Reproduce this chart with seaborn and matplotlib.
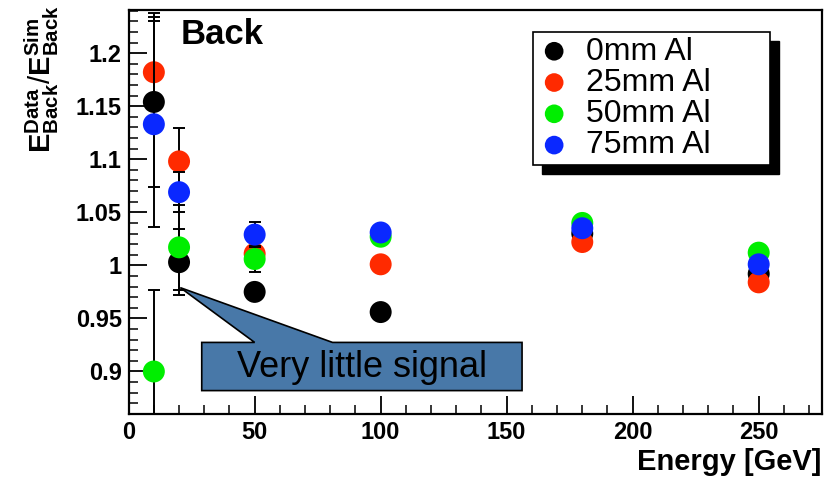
import numpy as np
import pandas as pd
import matplotlib
matplotlib.use("Agg")
import matplotlib.pyplot as plt
from matplotlib.patches import Polygon, Rectangle
from matplotlib.ticker import MultipleLocator
import seaborn as sns

# Beam energies and response ratios per absorber thickness
energy = [10, 20, 50, 100, 180, 250]
ratio_0mm = [1.154, 1.003, 0.975, 0.956, 1.030, 0.992]
ratio_25mm = [1.182, 1.098, 1.011, 1.001, 1.022, 0.984]
ratio_50mm = [0.900, 1.017, 1.006, 1.027, 1.040, 1.012]
ratio_75mm = [1.133, 1.069, 1.029, 1.031, 1.035, 1.001]
err_0mm = [0.080, 0.031, 0.004, 0.003, 0.003, 0.003]
err_25mm = [0.056, 0.031, 0.004, 0.003, 0.003, 0.003]
err_50mm = [0.077, 0.040, 0.012, 0.003, 0.003, 0.003]
err_75mm = [0.097, 0.019, 0.012, 0.003, 0.003, 0.003]
labels = ["0mm Al", "25mm Al", "50mm Al", "75mm Al"]
colors = ["#000000", "#ff2a00", "#00ee00", "#0a28ff"]

series = [ratio_0mm, ratio_25mm, ratio_50mm, ratio_75mm]
errors = [err_0mm, err_25mm, err_50mm, err_75mm]
df = pd.DataFrame({
    "energy": np.tile(energy, 4),
    "ratio": np.concatenate(series),
    "err": np.concatenate(errors),
    "absorber": np.repeat(labels, len(energy)),
})

sns.set_theme(style="white")
plt.rcParams["font.family"] = ["Liberation Sans", "DejaVu Sans"]
plt.rcParams["mathtext.fontset"] = "custom"
plt.rcParams["mathtext.rm"] = "Liberation Sans"
plt.rcParams["mathtext.bf"] = "Liberation Sans:bold"
plt.rcParams["mathtext.it"] = "Liberation Sans:italic"
for key in ["text.color", "axes.labelcolor", "xtick.color", "ytick.color"]:
    plt.rcParams[key] = "black"

fig = plt.figure(figsize=(8.3, 4.78), dpi=100)
ax = fig.add_axes([0.155, 0.134, 0.835, 0.845])

for i, lab in enumerate(labels):
    sub = df[df["absorber"] == lab]
    ax.errorbar(sub["energy"], sub["ratio"], yerr=sub["err"], fmt="none",
                ecolor="black", elinewidth=1.4, capsize=4, capthick=1.4,
                zorder=2 + 2 * i)
    sns.scatterplot(data=sub, x="energy", y="ratio", color=colors[i],
                    s=250, edgecolor="none", marker="o", ax=ax,
                    label=lab, zorder=3 + 2 * i)

ax.set_xlim(0, 275)
ax.set_ylim(0.86, 1.2406)
ax.xaxis.set_major_locator(MultipleLocator(50))
ax.xaxis.set_minor_locator(MultipleLocator(10))
ax.yaxis.set_major_locator(MultipleLocator(0.05))
ax.yaxis.set_minor_locator(MultipleLocator(0.01))
ax.yaxis.set_major_formatter(matplotlib.ticker.FuncFormatter(lambda v, p: f"{v:g}"))
ax.tick_params(which="major", direction="in", length=13, width=1.3,
               labelsize=17, pad=5, bottom=True, left=True, top=False, right=False)
ax.tick_params(which="minor", direction="in", length=6.5, width=1.1,
               bottom=True, left=True, top=False, right=False)
for t in ax.get_xticklabels() + ax.get_yticklabels():
    t.set_fontweight("bold")
for sp in ax.spines.values():
    sp.set_color("black")
    sp.set_linewidth(1.6)

ax.set_xlabel("Energy [GeV]", fontsize=21, fontweight="bold", ha="right")
ax.xaxis.set_label_coords(1.0, -0.085)
ax.set_ylabel(r"$\mathbf{E}_{\mathbf{Back}}^{\mathbf{Data}}/\mathbf{E}_{\mathbf{Back}}^{\mathbf{Sim}}$",
              fontsize=21)
ax.yaxis.set_label_coords(-0.098, 0.83)

ax.text(0.075, 0.94, "Back", transform=ax.transAxes, fontsize=25,
        fontweight="bold", va="center", ha="left")

# legend with a solid drop shadow
leg = ax.legend(loc="upper left", bbox_to_anchor=(0.584, 0.946, 0.341, 0.0),
                mode="expand", fontsize=23, frameon=True, fancybox=False,
                framealpha=1.0, facecolor="white",
                borderpad=0.15, labelspacing=0.04, handletextpad=0.5,
                handlelength=1.0, borderaxespad=0, markerscale=0.85)
leg.get_frame().set_edgecolor("black")
leg.get_frame().set_linewidth(1.2)
leg.set_zorder(20)
fig.canvas.draw()
bb = leg.get_window_extent().transformed(ax.transAxes.inverted())
dx, dy = 9 / (0.835 * 830), 9 / (0.845 * 478)
ax.add_patch(Rectangle((bb.x0 + dx, bb.y0 - dy), bb.width, bb.height,
                       transform=ax.transAxes, facecolor="black",
                       edgecolor="black", zorder=19))

# callout pointing at the low-energy point
tip_x = energy[1]
tip_y = ratio_0mm[1] - err_0mm[1] + 0.007
x0, x1, y0, y1 = 29.0, 156.1, 0.882, 0.9274
callout = Polygon([(x0, y0), (x1, y0), (x1, y1), (80.9, y1), (tip_x + 0.5, tip_y),
                   (50.0, y1), (x0, y1)], closed=True,
                  facecolor="#4878a8", edgecolor="black", linewidth=1.2, zorder=15)
ax.add_patch(callout)
ax.text((x0 + x1) / 2, (y0 + y1) / 2 - 0.001, "Very little signal", fontsize=26,
        ha="center", va="center", color="black", zorder=16)

fig.savefig("out.png", dpi=100)
